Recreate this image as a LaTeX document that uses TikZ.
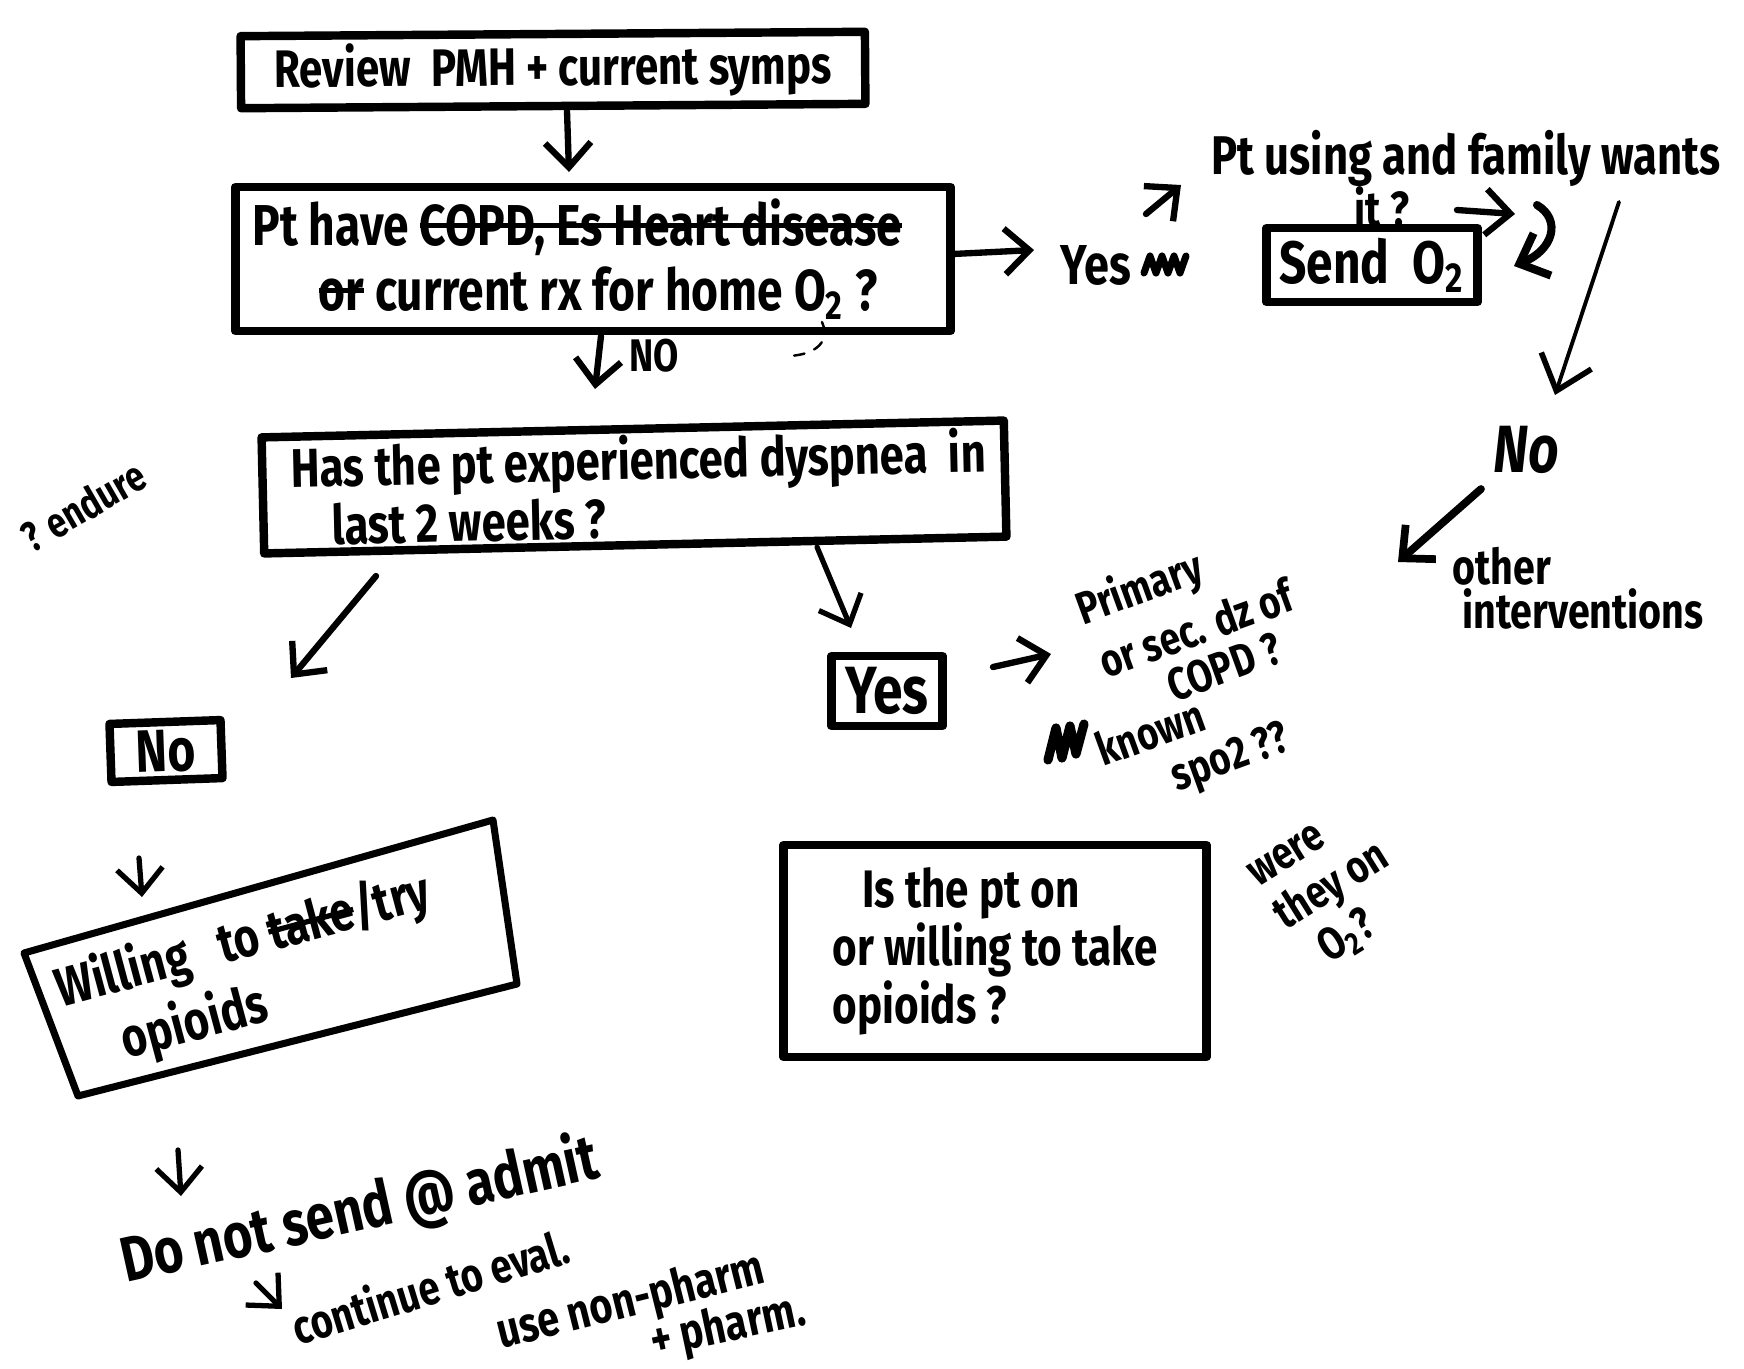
\documentclass[tikz,border=0pt]{standalone}
\usepackage{fontspec}
\setmainfont{Fira Sans}[FakeStretch=0.8]
\usetikzlibrary{arrows.meta}
\newcommand{\hw}[2]{\bfseries\fontsize{#1}{#2}\selectfont}
% struck-through words
\newsavebox{\strkbox}
\newcommand{\strk}[1]{\sbox{\strkbox}{#1}\rlap{\rule[0.3em]{\wd\strkbox}{1.5pt}}\usebox{\strkbox}}
% a line of fixed width, set flush left
\newcommand{\lineat}[2]{\makebox[#1][l]{#2}}
\begin{document}
\begin{tikzpicture}[x=0.01cm, y=-0.01cm,
  box/.style={draw, line width=2.4pt, line join=round, inner sep=0pt},
  quad/.style={draw, line width=2pt, line join=round},
  note/.style={inner sep=0pt},
  flow/.style={line width=1.8pt, line cap=round, line join=round,
               -{Straight Barb[length=7pt, width=13pt]}},
  thinflow/.style={line width=1.1pt, line cap=round,
               -{Straight Barb[length=9pt, width=15pt, line width=1.6pt]}},
  scrawl/.style={line width=2pt, line cap=round, line join=round},
]
\useasboundingbox (0,0) rectangle (1744,1369);

% ---------- arrow end points ----------
\coordinate (a1s) at (567,111);   \coordinate (a1e) at (569,172);
\coordinate (a2s) at (601,336);   \coordinate (a2e) at (595,389);
\coordinate (a3s) at (953,254);   \coordinate (a3e) at (1034,250);
\coordinate (a4s) at (1146,214);  \coordinate (a4e) at (1181,185);
\coordinate (a5s) at (1457,210);  \coordinate (a5e) at (1515,214);
\coordinate (a6s) at (1537,205);  \coordinate (a6e) at (1514,266);
\coordinate (a7s) at (1619,202);  \coordinate (a7e) at (1555,395);
\coordinate (a8s) at (1481,489);  \coordinate (a8e) at (1398,562);
\coordinate (a9s) at (376,576);   \coordinate (a9e) at (291,678);
\coordinate (a10s) at (817,547);  \coordinate (a10e) at (851,628);
\coordinate (a11s) at (993,667);  \coordinate (a11e) at (1051,654);
\coordinate (a12s) at (139,858);  \coordinate (a12e) at (142,897);
\coordinate (a13s) at (178,1150); \coordinate (a13e) at (181,1196);
\coordinate (a14s) at (256,1283); \coordinate (a14e) at (282,1309);

% ---------- main column ----------
\node[box, minimum width=6.24cm, minimum height=0.72cm, rotate=0.4,
      font=\hw{15}{18}] (review) at (553,70) {Review\ \ PMH + current symps};

\node[box, minimum width=7.15cm, minimum height=1.44cm, align=left,
      font=\hw{16.4}{18.5}] (rx) at (593,259)
  {\lineat{6.8cm}{Pt have \strk{COPD, Es Heart disease}}\\
   \lineat{6.8cm}{\hspace*{0.66cm}\strk{or} current rx for home O\textsubscript{2} ?}};

\draw[flow] (a1s) -- (a1e);

\node[box, minimum width=7.42cm, minimum height=1.16cm, rotate=1.3,
      align=left, font=\hw{15.5}{16.5}] (dysp) at (634,487)
  {\lineat{6.85cm}{Has the pt experienced dyspnea\ \ in}\\
   \lineat{6.85cm}{\hspace*{0.4cm}last 2 weeks ?}};

\draw[flow] (a2s) -- (a2e);
\node[note, font=\hw{13}{13}] (nolbl) at (654,356) {NO};
\draw[line width=0.7pt, dashed, line cap=round] (822,322) .. controls (832,345) and (810,356) .. (786,356);

% ---------- top right branch ----------
\node[note, font=\hw{16}{16}] (yes1) at (1096,265) {Yes};
\draw[flow] (a3s) -- (a3e);
\draw[scrawl] (1144,273) -- (1150,256) -- (1156,273) -- (1162,256) -- (1168,273) -- (1174,256) -- (1180,273) -- (1186,256);

\node[box, minimum width=2.11cm, minimum height=0.74cm,
      font=\hw{17}{17}] (send) at (1372,265) {Send\ \ O\textsubscript{2}};

\node[note, font=\hw{15.5}{15.5}] (using) at (1466,158) {Pt using and family wants};
\node[note, font=\hw{14}{14}] (itq) at (1382,207) {it ?};

\draw[flow] (a4s) -- (a4e);
\draw[flow] (a5s) -- (a5e);
\draw[flow, line width=2.3pt] (a6s) .. controls (1562,220) and (1553,250) .. (a6e);

\node[note, font=\bfseries\itshape\fontsize{19}{19}\selectfont] (no2) at (1526,450) {No};
\draw[thinflow] (a7s) -- (a7e);
\draw[flow, line width=2.2pt] (a8s) -- (a8e);
\node[note, align=left, font=\hw{14}{12.5}] (other) at (1578,588) {other\\\hspace*{0.1cm}interventions};

% ---------- left branch ----------
\node[note, rotate=30, font=\hw{12}{12}] (endure) at (83,506) {? endure};

\node[box, minimum width=1.11cm, minimum height=0.58cm, rotate=2,
      font=\hw{17}{17}] (no3) at (166,751) {No};
\draw[flow] (a9s) -- (a9e);

\coordinate (wTL) at (24,953);
\coordinate (wTR) at (493,820);
\coordinate (wBR) at (517,984);
\coordinate (wBL) at (78,1096);
\draw[quad] (wTL) -- (wTR) -- (wBR) -- (wBL) -- cycle;
\node[note, rotate=15, align=left, font=\hw{15.5}{19}] (willing) at (252,974)
  {Willing\ \ \ to \strk{take}/try\\\hspace*{0.5cm}opioids};

\draw[flow, line width=1.5pt] (a12s) -- (a12e);

\node[note, rotate=12.5, font=\hw{18}{18}] (donot) at (360,1212) {Do not send @ admit};
\draw[flow, line width=1.5pt] (a13s) -- (a13e);

\node[note, rotate=17, font=\hw{13.5}{13.5}] (cont) at (430,1286) {continue to eval.};
\draw[flow, line width=1.5pt] (a14s) -- (a14e);
\node[note, rotate=14, font=\hw{14}{14}] (nonph) at (631,1303) {use non-pharm};
\node[note, rotate=12, font=\hw{14}{14}] (pharm) at (728,1328) {+ pharm.};

% ---------- middle branch ----------
\draw[flow, line width=1.5pt] (a10s) -- (a10e);
\node[box, minimum width=1.11cm, minimum height=0.70cm,
      font=\hw{19}{19}] (yes2) at (887,691) {Yes};
\draw[flow] (a11s) -- (a11e);

\node[note, rotate=20, font=\hw{13}{13}] (pq1) at (1140,590) {Primary};
\node[note, rotate=20, font=\hw{13}{13}] (pq2) at (1196,628) {or sec. dz of};
\node[note, rotate=20, font=\hw{13}{13}] (pq3) at (1224,667) {COPD ?};
\node[note, rotate=20, font=\hw{13}{13}] (pq4) at (1150,732) {known};
\node[note, rotate=20, font=\hw{13}{13}] (pq5) at (1231,760) {spo2 ??};
\draw[scrawl, line width=2.6pt] (1048,760) -- (1056,728) -- (1062,758) -- (1070,726) -- (1076,754) -- (1084,724);

\node[box, minimum width=4.23cm, minimum height=2.12cm, align=left,
      font=\hw{15}{16.5}] (opi) at (995,951)
  {\hspace*{0.3cm}Is the pt on\\or willing to take\\opioids ?};

\node[note, rotate=32, align=left, font=\hw{13}{14.5}] (were) at (1334,890)
  {were\\they on\\\hspace*{0.2cm}O\textsubscript{2}?};

\end{tikzpicture}
\end{document}
